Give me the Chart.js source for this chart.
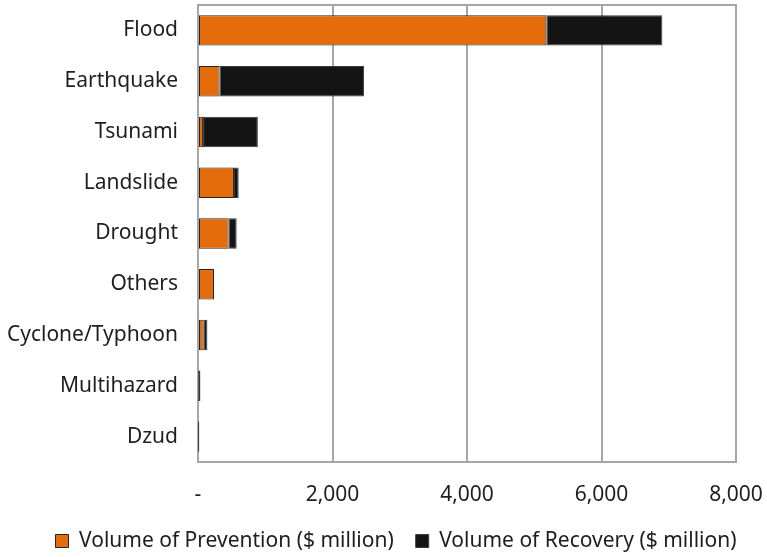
<!DOCTYPE html>
<html>
<head>
<meta charset="utf-8">
<script src="https://cdn.jsdelivr.net/npm/chart.js@4"></script>
<style>
  html, body { margin: 0; padding: 0; background: #fff; }
  #wrap { width: 767px; height: 557px; }
</style>
</head>
<body>
<div id="wrap"><canvas id="chart"></canvas></div>
<script>
const categories = ["Flood", "Earthquake", "Tsunami", "Landslide", "Drought", "Others", "Cyclone/Typhoon", "Multihazard", "Dzud"];
const prevention = [5180, 320, 75, 535, 455, 238, 85, 6, 4];
const recovery = [1725, 2150, 815, 70, 120, 0, 55, 30, 16];
const xTicks = [0, 2000, 4000, 6000, 8000];

const FONT = "'Noto Sans', sans-serif";

// light frame around the plot area (top and right edges)
const frame = {
  id: 'frame',
  beforeDatasetsDraw(chart) {
    const { ctx, chartArea: a } = chart;
    ctx.save();
    ctx.strokeStyle = '#a6a6a6';
    ctx.lineWidth = 2;
    ctx.strokeRect(a.left, a.top, a.right - a.left, a.bottom - a.top);
    ctx.restore();
  }
};

// the original legend sits a bit right of centre
const legendShift = {
  id: 'legendShift',
  afterLayout(chart) {
    chart.legend.left += 28;
    chart.legend.right += 28;
  }
};

new Chart(document.getElementById('chart'), {
  type: 'bar',
  data: {
    labels: categories,
    datasets: [
      {
        label: 'Volume of Prevention ($ million)',
        data: prevention,
        backgroundColor: '#e46c0a',
        borderColor: '#262626',
        borderWidth: 1,
        borderSkipped: false
      },
      {
        label: 'Volume of Recovery ($ million)',
        data: recovery,
        backgroundColor: '#141414',
        borderColor: '#3a3a3a',
        borderWidth: 1,
        borderSkipped: false
      }
    ]
  },
  options: {
    indexAxis: 'y',
    responsive: true,
    maintainAspectRatio: false,
    animation: false,
    layout: { padding: { top: 5, right: 31, left: 0, bottom: -4.5 } },
    datasets: { bar: { categoryPercentage: 0.6, barPercentage: 1 } },
    scales: {
      x: {
        stacked: true,
        min: 0,
        max: 8000,
        afterBuildTicks(scale) { scale.ticks = xTicks.map(v => ({ value: v })); },
        afterFit(scale) {
          scale.height = 46.5;
          scale.paddingLeft = 0;
          scale.paddingRight = 0;
        },
        grid: { color: '#a6a6a6', lineWidth: 2, drawTicks: false },
        border: { color: '#a6a6a6', width: 2 },
        ticks: {
          padding: 20,
          color: '#1e1e1e',
          font: { family: FONT, size: 21 },
          callback: v => v === 0 ? '-' : v.toLocaleString('en-US')
        }
      },
      y: {
        stacked: true,
        afterFit(scale) {
          scale.width = 198;
          scale.paddingTop = 0;
          scale.paddingBottom = 0;
        },
        grid: { display: false, drawTicks: false },
        border: { color: '#a6a6a6', width: 2 },
        ticks: {
          padding: 20,
          color: '#1e1e1e',
          font: { family: FONT, size: 21 }
        }
      }
    },
    plugins: {
      legend: {
        position: 'bottom',
        labels: {
          color: '#1e1e1e',
          font: { family: FONT, size: 21 },
          boxWidth: 13,
          boxHeight: 13,
          padding: 22,
          useBorderRadius: false
        }
      },
      tooltip: { enabled: false }
    }
  },
  plugins: [frame, legendShift]
});
</script>
</body>
</html>
